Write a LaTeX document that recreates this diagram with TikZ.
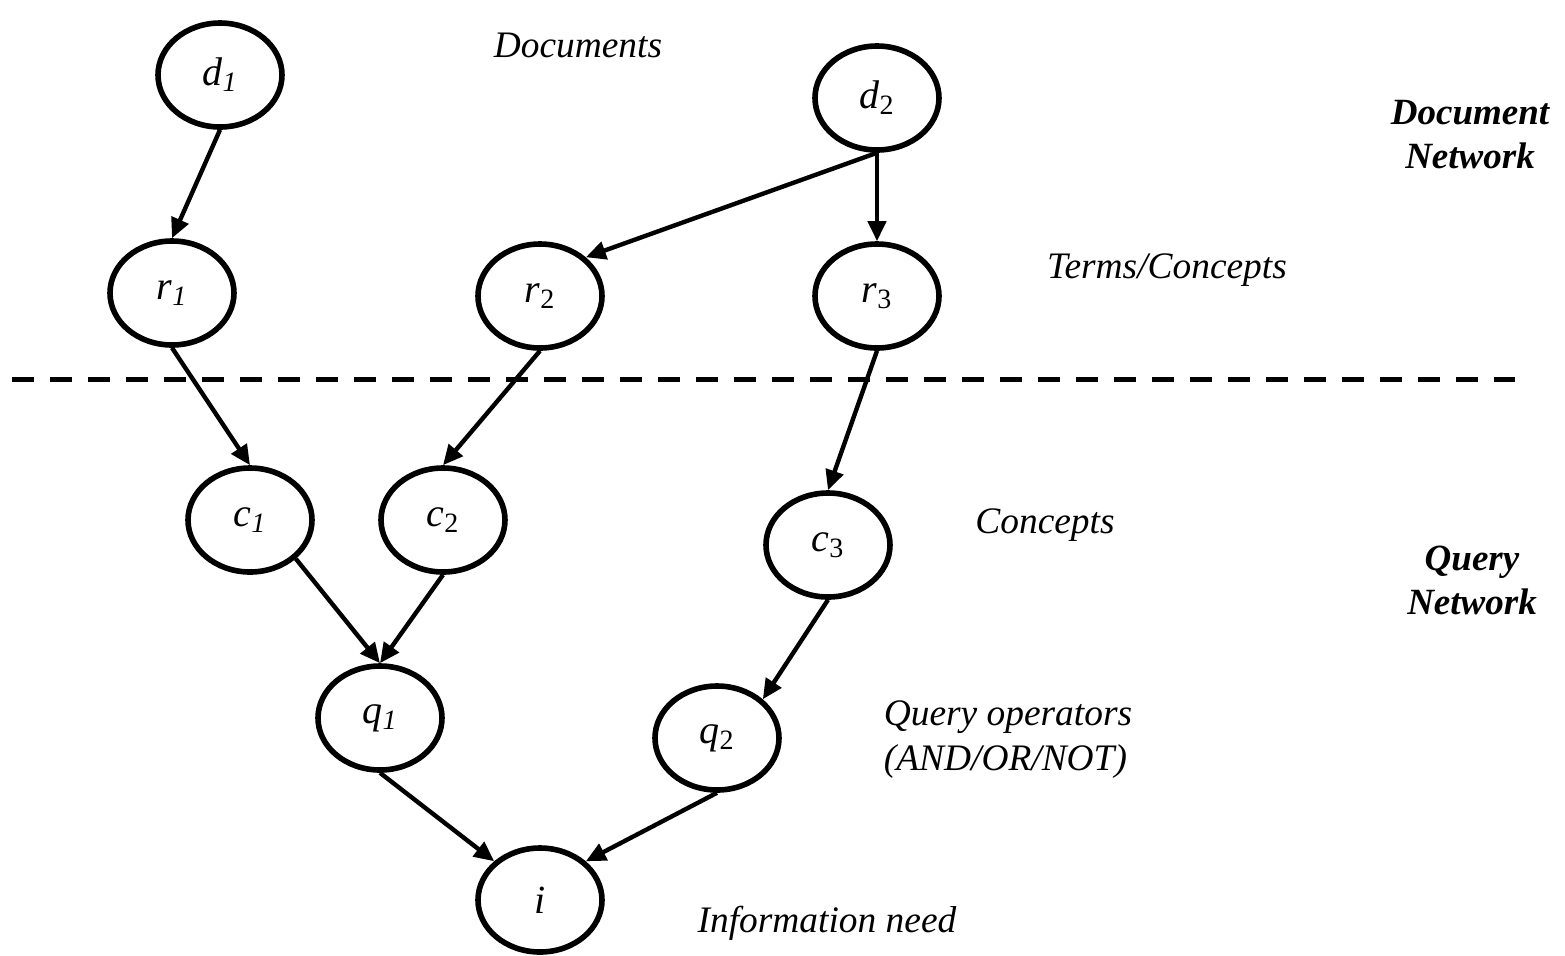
\documentclass[tikz,border=0pt]{standalone}
\usepackage{fontspec}
\setmainfont{Liberation Serif}
\usepackage{tikz}
\usetikzlibrary{shapes.geometric, arrows.meta}

\begin{document}
\begin{tikzpicture}[
                x=0.5pt, y=-0.5pt,
                V/.style = {ellipse, draw, line width=2.8pt, minimum width=62pt, minimum height=52pt, inner sep=0pt,
                            font=\fontsize{20}{24}\selectfont\itshape},
                L/.style = {font=\fontsize{18.7}{22.5}\selectfont\itshape, align=left},
                B/.style = {font=\fontsize{18.5}{22}\selectfont\bfseries\itshape, align=center},
                E/.style = {line width=2.2pt, -{Triangle[length=10pt, width=9pt]}}
                    ]
                \useasboundingbox (0,0) rectangle (1565,955);
                \begin{scope}[nodes=V]
                \node (d1) at (220,75) {d\textsubscript{\textit{1}}};
                \node (d2) at (877,98) {d\textsubscript{\upshape 2}};
                \node (r1) at (172,293) {r\textsubscript{\textit{1}}};
                \node (r2) at (540,296) {r\textsubscript{\upshape 2}};
                \node (r3) at (877,296) {r\textsubscript{\upshape 3}};
                \node (c1) at (250,520) {c\textsubscript{\textit{1}}};
                \node (c2) at (443,520) {c\textsubscript{\upshape 2}};
                \node (c3) at (828,545) {c\textsubscript{\upshape 3}};
                \node (q1) at (380,718) {q\textsubscript{\textit{1}}};
                \node (q2) at (717,738) {q\textsubscript{\upshape 2}};
                \node (i) at (540,900) {i};
                \end{scope}
                % level labels
                \node[L] (docs) at (578,45) {Documents};
                \node[L] (terms) at (1167,270) {Terms/Concepts};
                \node[L] (concepts) at (1045,525) {Concepts};
                \node[L] (ops) at (1008,740) {Query operators\\(AND/OR/NOT)};
                \node[L] (need) at (827,923) {Information need};
                \node[B] (docnet) at (1470,135) {Document\\Network};
                \node[B] (qnet) at (1472,580) {Query\\Network};
                % separator
                \coordinate (sepL) at (12,379);
                \coordinate (sepR) at (1515,379);
                \draw[line width=2.5pt, dash pattern=on 11pt off 8pt] (sepL) -- (sepR);
                % edges
                \draw[E] (d1.south) to (r1.north);
                \draw[E] (d2.south) to (r2.north east);
                \draw[E] (d2.south) to (r3.north);
                \draw[E] (r1.south) to (c1.north);
                \draw[E] (r2.south) to (c2.north);
                \draw[E] (r3.south) to (c3.north);
                \draw[E] (c1.south east) to (q1.north);
                \draw[E] (c2.south) to (q1.north);
                \draw[E] (c3.south) to (q2.north east);
                \draw[E] (q1.south) to (i.north west);
                \draw[E] (q2.south) to (i.north east);
            \end{tikzpicture}
\end{document}
